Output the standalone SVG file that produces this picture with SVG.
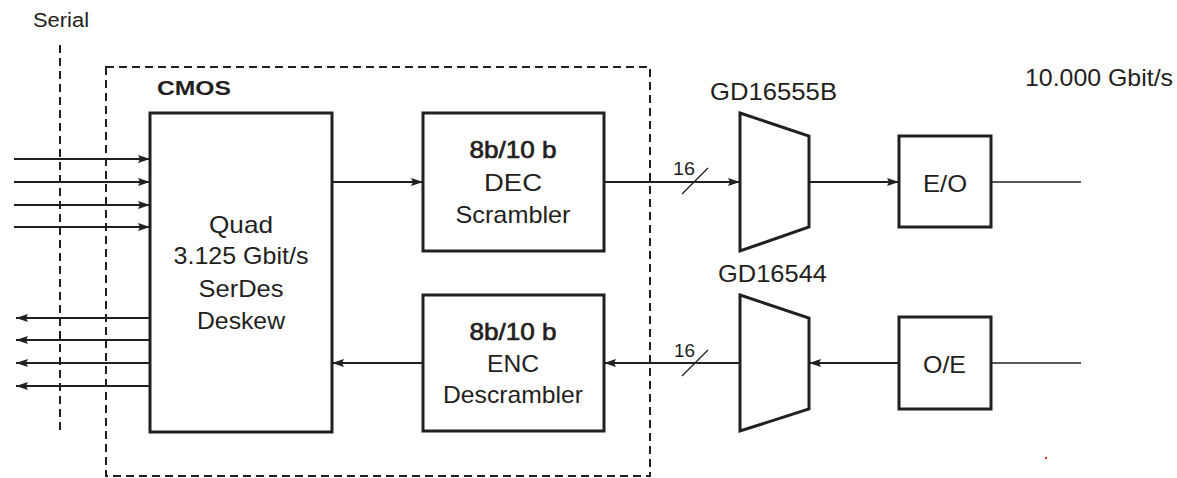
<svg xmlns="http://www.w3.org/2000/svg" width="1177" height="478" viewBox="0 0 1177 478">
<style>
text{font-family:"Liberation Sans",Arial,sans-serif;fill:#231f20}
.t{font-size:24px}
.c{text-anchor:middle}
.m{stroke:#231f20;stroke-width:0.7}
.box{fill:#fff;stroke:#231f20;stroke-width:3}
.dash{fill:none;stroke:#231f20;stroke-width:2;stroke-dasharray:8 5}
.ln{fill:none;stroke:#231f20;stroke-width:2}
.thin{fill:none;stroke:#231f20;stroke-width:1.3}
</style>
<defs>
<marker id="ah" markerUnits="userSpaceOnUse" markerWidth="13" markerHeight="10" refX="12" refY="5" orient="auto">
<path d="M0,1 L12,5 L0,9 L2,5 Z" fill="#231f20"/>
</marker>
</defs>
<rect width="1177" height="478" fill="#fff"/>
<g id="serial">
<text x="33" y="27" font-size="20" textLength="56" lengthAdjust="spacingAndGlyphs">Serial</text>
<line class="dash" x1="60" y1="45" x2="60" y2="432"/>
</g>
<g id="cmos">
<rect class="dash" x="106" y="67" width="544" height="409"/>
<text x="157" y="95" font-size="21" font-weight="bold" textLength="74" lengthAdjust="spacingAndGlyphs">CMOS</text>
</g>
<g id="connectors">
<line class="ln" x1="14" y1="159" x2="150" y2="159" marker-end="url(#ah)"/>
<line class="ln" x1="14" y1="182" x2="150" y2="182" marker-end="url(#ah)"/>
<line class="ln" x1="14" y1="205" x2="150" y2="205" marker-end="url(#ah)"/>
<line class="ln" x1="14" y1="227" x2="150" y2="227" marker-end="url(#ah)"/>
<line class="ln" x1="150" y1="318" x2="16" y2="318" marker-end="url(#ah)"/>
<line class="ln" x1="150" y1="340" x2="16" y2="340" marker-end="url(#ah)"/>
<line class="ln" x1="150" y1="363" x2="16" y2="363" marker-end="url(#ah)"/>
<line class="ln" x1="150" y1="386" x2="16" y2="386" marker-end="url(#ah)"/>
<line class="ln" x1="332" y1="182" x2="423" y2="182" marker-end="url(#ah)"/>
<line class="ln" x1="604" y1="182" x2="740" y2="182" marker-end="url(#ah)"/>
<line class="thin" x1="682" y1="194" x2="708" y2="168"/>
<text x="673" y="175" font-size="19" textLength="22" lengthAdjust="spacingAndGlyphs">16</text>
<line class="ln" x1="809" y1="182" x2="899" y2="182" marker-end="url(#ah)"/>
<line class="thin" x1="991" y1="182" x2="1081" y2="182"/>
<line class="thin" x1="1081" y1="363" x2="991" y2="363"/>
<line class="ln" x1="899" y1="363" x2="809" y2="363" marker-end="url(#ah)"/>
<line class="ln" x1="740" y1="363" x2="604" y2="363" marker-end="url(#ah)"/>
<line class="thin" x1="682" y1="376" x2="708" y2="350"/>
<text x="674" y="357" font-size="19" textLength="21" lengthAdjust="spacingAndGlyphs">16</text>
<line class="ln" x1="423" y1="363" x2="332" y2="363" marker-end="url(#ah)"/>
</g>
<g id="serdes">
<rect class="box" x="150" y="113" width="182" height="319"/>
<text class="t c" x="241" y="233" textLength="64" lengthAdjust="spacingAndGlyphs">Quad</text>
<text class="t c" x="241" y="264" textLength="135" lengthAdjust="spacingAndGlyphs">3.125 Gbit/s</text>
<text class="t c" x="241" y="297" textLength="85" lengthAdjust="spacingAndGlyphs">SerDes</text>
<text class="t c" x="241" y="329" textLength="88" lengthAdjust="spacingAndGlyphs">Deskew</text>
</g>
<g id="dec">
<rect class="box" x="423" y="113" width="181" height="138"/>
<text class="t c m" x="513" y="158" textLength="87" lengthAdjust="spacingAndGlyphs">8b/10 b</text>
<text class="t c" x="513" y="191" textLength="58" lengthAdjust="spacingAndGlyphs">DEC</text>
<text class="t c" x="513" y="223" textLength="115" lengthAdjust="spacingAndGlyphs">Scrambler</text>
</g>
<g id="enc">
<rect class="box" x="423" y="295" width="181" height="136"/>
<text class="t c m" x="513" y="340" textLength="87" lengthAdjust="spacingAndGlyphs">8b/10 b</text>
<text class="t c" x="513" y="372" textLength="52" lengthAdjust="spacingAndGlyphs">ENC</text>
<text class="t c" x="513" y="403" textLength="140" lengthAdjust="spacingAndGlyphs">Descrambler</text>
</g>
<g id="mux">
<polygon class="box" points="740,113 809,136 809,227 740,251"/>
<text class="t" x="710" y="100" textLength="127" lengthAdjust="spacingAndGlyphs">GD16555B</text>
</g>
<g id="demux">
<polygon class="box" points="740,295 809,318 809,409 740,431"/>
<text class="t" x="718" y="282" textLength="109" lengthAdjust="spacingAndGlyphs">GD16544</text>
</g>
<g id="eo">
<rect class="box" x="899" y="136" width="92" height="91"/>
<text class="t c" x="945" y="192" textLength="44" lengthAdjust="spacingAndGlyphs">E/O</text>
</g>
<g id="oe">
<rect class="box" x="899" y="317" width="92" height="92"/>
<text class="t c" x="944.5" y="373" textLength="43" lengthAdjust="spacingAndGlyphs">O/E</text>
</g>
<g id="rate">
<text class="t" x="1025" y="86" textLength="148" lengthAdjust="spacingAndGlyphs">10.000 Gbit/s</text>
</g>
<rect x="1045" y="457" width="2" height="2" fill="#e31e24"/>
</svg>
